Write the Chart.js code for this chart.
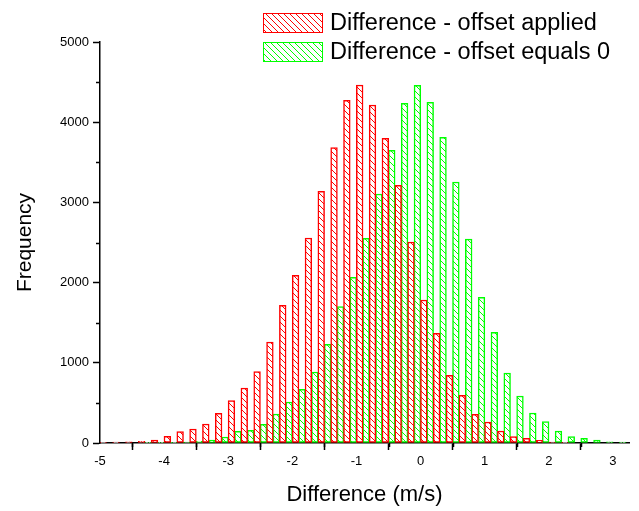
<!DOCTYPE html>
<html>
<head>
<meta charset="utf-8">
<script src="https://cdn.jsdelivr.net/npm/chart.js@4.4.1/dist/chart.umd.min.js"></script>
<style>
  body { margin: 0; background: #fff; }
  canvas { display: block; }
</style>
</head>
<body>
<canvas id="myChart" width="639" height="511"></canvas>
<script>
// bin centres (m/s) and counts for both histograms
const redX = [-4.95,-4.75,-4.55,-4.35,-4.15,-3.95,-3.75,-3.55,-3.35,-3.15,-2.95,-2.75,-2.55,-2.35,-2.15,-1.95,-1.75,-1.55,-1.35,-1.15,-0.95,-0.75,-0.55,-0.35,-0.15,0.05,0.25,0.45,0.65,0.85,1.05,1.25,1.45,1.65,1.85,2.05,2.25];
const redY = [8,10,15,22,37,83,141,175,237,370,528,686,889,1259,1716,2091,2556,3138,3682,4273,4464,4215,3799,3213,2506,1783,1367,844,594,357,262,150,79,58,33,12,8];

const greenX = [-4.25,-4.05,-3.85,-3.65,-3.45,-3.25,-3.05,-2.85,-2.65,-2.45,-2.25,-2.05,-1.85,-1.65,-1.45,-1.25,-1.05,-0.85,-0.65,-0.45,-0.25,-0.05,0.15,0.35,0.55,0.75,0.95,1.15,1.35,1.55,1.75,1.95,2.15,2.35,2.55,2.75,2.95,3.15];
const greenY = [3,5,8,12,21,37,75,145,158,233,362,511,669,885,1230,1700,2066,2552,3105,3649,4235,4460,4248,3811,3254,2544,1816,1380,873,586,374,266,150,79,58,37,15,10];

const seriesNames = ['Difference - offset applied', 'Difference - offset equals 0'];

// minor tick positions
const xMinor = [-4.5,-3.5,-2.5,-1.5,-0.5,0.5,1.5,2.5];
const yMinor = [500,1500,2500,3500,4500];

const FONT = "'Liberation Sans', Arial, sans-serif";

// diagonal hatch fill "\\\\"
let hatch = function(color)
{
    const c = document.createElement('canvas');
    c.width = 6;
    c.height = 6;
    const g = c.getContext('2d');
    g.fillStyle = '#fff';
    g.fillRect(0, 0, 6, 6);
    g.strokeStyle = color;
    g.lineWidth = 1;
    g.beginPath();
    g.moveTo(-1, -1); g.lineTo(7, 7);
    g.moveTo(-1, 5); g.lineTo(1, 7);
    g.moveTo(5, -1); g.lineTo(7, 1);
    g.stroke();
    return g.createPattern(c, 'repeat');
};

const redFill = hatch('#ff0000');
const greenFill = hatch('#00ff00');

const toPoints = (xs, ys) => xs.map((x, i) => ({ x: x, y: ys[i] }));

// short ticks at the half steps, plus the legend in the top right
const extras = {
    id: 'extras',
    afterDraw(chart) {
        const c = chart.ctx;
        const xs = chart.scales.x;
        const ys = chart.scales.y;
        const area = chart.chartArea;
        c.save();
        c.strokeStyle = '#000';
        c.lineWidth = 1.5;
        c.beginPath();
        for (let v of xMinor) {
            const px = Math.round(xs.getPixelForValue(v)) + 0.5;
            c.moveTo(px, area.bottom);
            c.lineTo(px, area.bottom + 4);
        }
        for (let v of yMinor) {
            const py = Math.round(ys.getPixelForValue(v)) + 0.5;
            c.moveTo(area.left, py);
            c.lineTo(area.left - 4, py);
        }
        c.stroke();

        c.font = '23.5px ' + FONT;
        c.textBaseline = 'middle';
        c.textAlign = 'left';
        chart.data.datasets.forEach((ds, i) => {
            const top = 13 + i * 29;
            c.fillStyle = ds.backgroundColor;
            c.fillRect(263, top, 60, 20);
            c.strokeStyle = ds.borderColor;
            c.lineWidth = 1;
            c.strokeRect(263.5, top + 0.5, 59, 19);
            c.fillStyle = '#000';
            c.fillText(ds.label, 330, top + 11);
        });
        c.restore();
    }
};

const ctx = document.getElementById('myChart');

let bar = new Chart(ctx, {
    type: 'bar',
    data: {
        datasets: [{
            label: seriesNames[0],
            data: toPoints(redX, redY),
            backgroundColor: redFill,
            borderColor: '#ff0000',
            borderWidth: 1.5,
            borderSkipped: false
        }, {
            label: seriesNames[1],
            data: toPoints(greenX, greenY),
            backgroundColor: greenFill,
            borderColor: '#00ff00',
            borderWidth: 1.5,
            borderSkipped: false
        }]
    },
    options: {
        responsive: false,
        animation: false,
        grouped: false,
        barThickness: 6.7,
        layout: {
            padding: { left: 0, right: 10, top: 42, bottom: 0 }
        },
        plugins: {
            legend: { display: false },
            tooltip: { enabled: false }
        },
        scales: {
            x: {
                type: 'linear',
                offset: false,
                min: -5,
                max: 3.25,
                border: { color: '#000', width: 1.5 },
                grid: {
                    drawOnChartArea: false,
                    tickLength: 7,
                    tickColor: '#000',
                    tickWidth: 1.5
                },
                ticks: {
                    stepSize: 1,
                    includeBounds: false,
                    color: '#000',
                    padding: 4,
                    maxRotation: 0,
                    font: { family: FONT, size: 13 },
                    callback: (v) => String(v)
                },
                title: {
                    display: true,
                    text: 'Difference (m/s)',
                    color: '#000',
                    font: { family: FONT, size: 22 },
                    padding: { top: 0, bottom: 3 }
                },
                afterFit: (scale) => { scale.height = 68; }
            },
            y: {
                min: 0,
                max: 5000,
                border: { color: '#000', width: 1.5 },
                grid: {
                    drawOnChartArea: false,
                    tickLength: 7,
                    tickColor: '#000',
                    tickWidth: 1.5
                },
                ticks: {
                    stepSize: 1000,
                    color: '#000',
                    padding: 4,
                    font: { family: FONT, size: 13 },
                    callback: (v) => String(v)
                },
                title: {
                    display: true,
                    text: 'Frequency',
                    color: '#000',
                    font: { family: FONT, size: 21 },
                    padding: { top: 13, bottom: 0 }
                },
                afterFit: (scale) => { scale.width = 100; }
            }
        }
    },
    plugins: [extras]
});
</script>
</body>
</html>
